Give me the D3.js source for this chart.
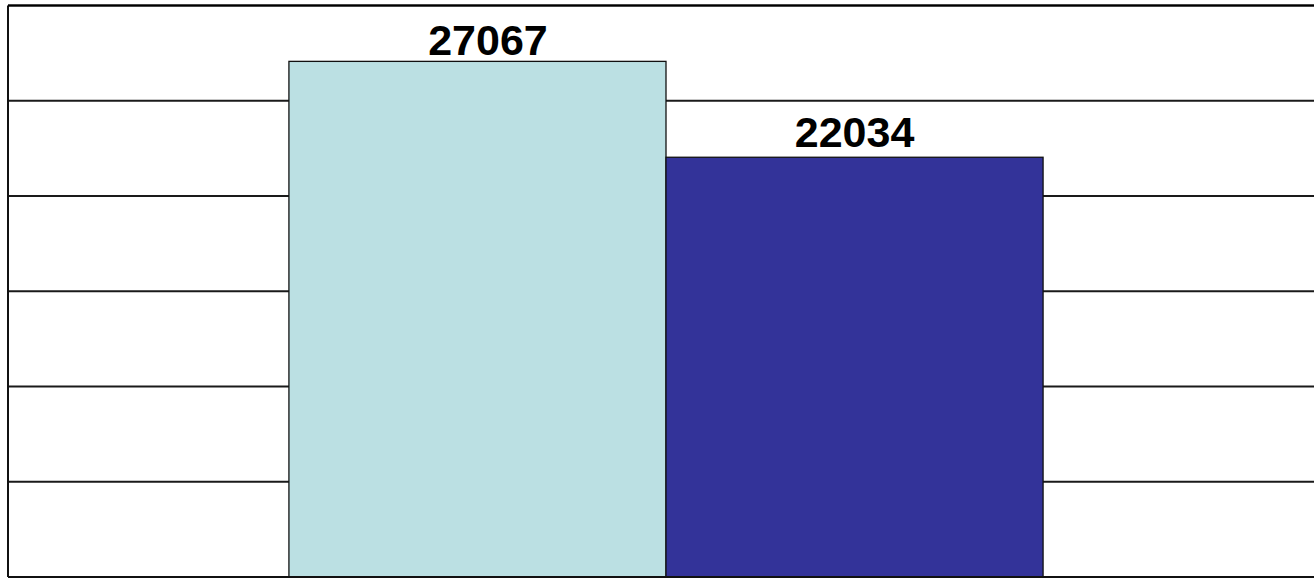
<!DOCTYPE html>
<html>
<head>
<meta charset="utf-8">
<script src="https://cdn.jsdelivr.net/npm/d3@7"></script>
<style>
  body { margin: 0; background: #fff; }
  svg { display: block; }
</style>
</head>
<body>
<div id="chart"></div>
<script>
const series = ["A", "B"];
const values = [27067, 22034];
const colors = ["#bbe0e3", "#333399"];
const yTicks = [0, 5000, 10000, 15000, 20000, 25000, 30000];

const width = 1314, height = 582;
const plot = { left: 8, right: 1324, top: 5.5, bottom: 577 };
// label placement tweaks (dx, gap above bar)
const labelNudge = [[10.5, 6.5], [0, 10]];

const svg = d3.select("#chart")
  .append("svg")
  .attr("width", width)
  .attr("height", height);

const x = d3.scaleBand()
  .domain(series)
  .range([plot.left, plot.right])
  .paddingInner(0)
  .paddingOuter(0.745);

const y = d3.scaleLinear()
  .domain([0, 30000])
  .range([plot.bottom, plot.top]);

// gridlines
svg.append("g")
  .selectAll("line")
  .data(yTicks)
  .enter()
  .append("line")
  .attr("x1", plot.left)
  .attr("x2", plot.right)
  .attr("y1", d => y(d))
  .attr("y2", d => y(d))
  .attr("stroke", "#1a1a1a")
  .attr("stroke-width", 1.9);

// bars
svg.append("g")
  .selectAll("rect")
  .data(values)
  .enter()
  .append("rect")
  .attr("x", (d, i) => x(series[i]))
  .attr("width", x.bandwidth())
  .attr("y", d => y(d))
  .attr("height", d => y(0) - y(d))
  .attr("fill", (d, i) => colors[i])
  .attr("stroke", "#111")
  .attr("stroke-width", 1.3);

// frame
svg.append("line")
  .attr("x1", plot.left).attr("x2", plot.left)
  .attr("y1", plot.top).attr("y2", plot.bottom)
  .attr("stroke", "#111").attr("stroke-width", 2);
svg.append("line")
  .attr("x1", plot.left).attr("x2", plot.right)
  .attr("y1", plot.top).attr("y2", plot.top)
  .attr("stroke", "#000").attr("stroke-width", 2.2);
svg.append("line")
  .attr("x1", plot.left).attr("x2", plot.right)
  .attr("y1", plot.bottom).attr("y2", plot.bottom)
  .attr("stroke", "#111").attr("stroke-width", 2);

// value labels
svg.append("g")
  .selectAll("text")
  .data(values)
  .enter()
  .append("text")
  .attr("x", (d, i) => x(series[i]) + x.bandwidth() / 2 + labelNudge[i][0])
  .attr("y", (d, i) => y(d) - labelNudge[i][1])
  .attr("text-anchor", "middle")
  .attr("font-family", "Liberation Sans, Arial, sans-serif")
  .attr("font-weight", "bold")
  .attr("font-size", "43px")
  .attr("fill", "#000")
  .text(d => d);
</script>
</body>
</html>
